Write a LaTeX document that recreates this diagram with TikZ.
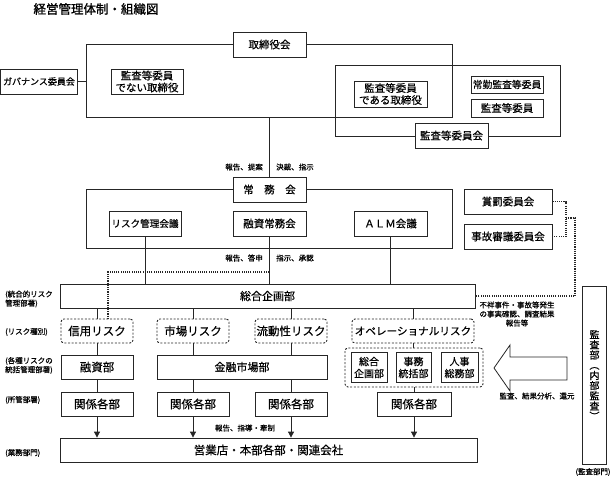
\documentclass[tikz,border=0pt]{standalone}
\usepackage{fontspec}
\setmainfont[FakeBold=0.5]{Noto Sans CJK JP}
\newfontfamily\titlefont[FakeBold=1.3]{Noto Sans CJK JP}
\usetikzlibrary{arrows.meta}
\begin{document}
\begin{tikzpicture}[x=1pt,y=-1pt,
  ln/.style={draw=black!85, line width=0.8pt},
  bx/.style={ln, fill=white, inner sep=0pt, align=center, font=\fontsize{10.5}{12}\selectfont},
  frm/.style={ln, inner sep=0pt},
  dbx/.style={draw=black!85, line width=0.9pt, dash pattern=on 2pt off 1.6pt, rounded corners=3pt, fill=white, inner sep=0pt, align=center, font=\fontsize{11.5}{13}\selectfont},
  dotline/.style={draw=black!85, line width=1.1pt, dash pattern=on 1.1pt off 1.1pt},
  lbl/.style={inner sep=0pt, font=\fontsize{7.5}{9}\selectfont, align=left},
  arr/.style={ln, -{Triangle[width=6pt,length=6pt]}},
  big/.style={font=\fontsize{11.5}{13}\selectfont},
]
\useasboundingbox (0,0) rectangle (612,477);

% title
\node[inner sep=0pt, font=\fontsize{12.5}{14}\titlefont] (title) at (96,9) {経営管理体制・組織図};

% board of directors
\node[frm, minimum width=366pt, minimum height=73pt] (boardframe) at (269,80.5) {};
\node[frm, minimum width=225pt, minimum height=71pt] (auditframe) at (447.5,100.5) {};
\node[bx, minimum width=73pt, minimum height=25pt] (board) at (269.5,44.5) {取締役会};
\node[bx, minimum width=77pt, minimum height=25pt, font=\fontsize{9}{10}\selectfont] (gov) at (39,81.5) {ガバナンス委員会};
\draw[ln] (gov.east) -- (gov.east -| boardframe.west);
\node[bx, minimum width=72pt, minimum height=25pt] (nonaudit) at (147,81.5) {監査等委員\\でない取締役};
\node[bx, minimum width=73pt, minimum height=26pt] (auditdir) at (390.5,94) {監査等委員\\である取締役};
\node[bx, minimum width=72pt, minimum height=17pt, font=\fontsize{9.8}{11}\selectfont] (fulltime) at (507,84.5) {常勤監査等委員};
\node[bx, minimum width=72pt, minimum height=18pt] (auditmem) at (507,108) {監査等委員};
\node[bx, minimum width=73pt, minimum height=25pt] (auditcom) at (451.5,135.5) {監査等委員会};

% executive committee
\node[frm, minimum width=366pt, minimum height=59pt] (jomuframe) at (269,218.5) {};
\node[bx, minimum width=73pt, minimum height=25pt] (jomu) at (269.5,189.5) {常　務　会};
\draw[ln] (jomu.north |- boardframe.south) -- (jomu.north);
\node[lbl, anchor=east] (l1) at (263,167) {報告、提案};
\node[lbl, anchor=west] (l2) at (276,167) {決裁、指示};
\node[bx, minimum width=72pt, minimum height=25pt, font=\fontsize{9.6}{11}\selectfont] (riskm) at (145,223.5) {リスク管理会議};
\node[bx, minimum width=73pt, minimum height=25pt] (yushi) at (269.5,223.5) {融資常務会};
\node[bx, minimum width=73pt, minimum height=25pt] (alm) at (390.5,223.5) {ＡＬＭ会議};

\node[bx, minimum width=88pt, minimum height=25pt] (shobatsu) at (508,201.5) {賞罰委員会};
\node[bx, minimum width=88pt, minimum height=25pt] (jiko) at (508,236.5) {事故審議委員会};

% planning dept
\node[bx, minimum width=415pt, minimum height=24pt, font=\fontsize{11}{13}\selectfont] (soumu) at (267.5,296) {総合企画部};
\draw[ln] (riskm.south) -- (riskm.south |- soumu.north);
\draw[ln] (yushi.south) -- (yushi.south |- soumu.north);
\draw[ln] (alm.south) -- (alm.south |- soumu.north);
\node[lbl, anchor=east] (l3) at (263,258) {報告、答申};
\node[lbl, anchor=west] (l4) at (276,258) {指示、承認};

% risk types
\node[dbx, minimum width=72pt, minimum height=24pt] (shinyo) at (97,331) {信用リスク};
\node[dbx, minimum width=72pt, minimum height=24pt] (shijo) at (193,331) {市場リスク};
\node[dbx, minimum width=72pt, minimum height=24pt] (ryudo) at (291,331) {流動性リスク};
\node[dbx, minimum width=122pt, minimum height=24pt, font=\fontsize{10.6}{12}\selectfont] (opr) at (413,331) {オペレーショナルリスク};
\foreach \n in {shinyo,shijo,ryudo,opr}
  \draw[ln] (\n.north |- soumu.south) -- (\n.north);

% dotted loan committee link
\coordinate (dj) at (269,272);
\draw[dotline] (dj) -| ([xshift=11pt]shinyo.north);

% managing depts
\node[bx, big, minimum width=72pt, minimum height=24pt] (yushibu) at (97,367) {融資部};
\node[bx, minimum width=170pt, minimum height=24pt, font=\fontsize{11}{13}\selectfont] (kinyu) at (242,367) {金融市場部};
\draw[ln] (shinyo.south) -- (yushibu.north);
\draw[ln] (shijo.south) -- (shijo.south |- kinyu.north);
\draw[ln] (ryudo.south) -- (ryudo.south |- kinyu.north);

\node[dbx, minimum width=138pt, minimum height=39pt] (opsgrp) at (414,367.5) {};
\node[bx, minimum width=36pt, minimum height=30pt, font=\fontsize{10}{12}\selectfont] (sk) at (369,367.5) {総合\\企画部};
\node[bx, minimum width=35pt, minimum height=30pt, font=\fontsize{10}{12}\selectfont] (jm) at (413.5,367.5) {事務\\統括部};
\node[bx, minimum width=37pt, minimum height=30pt, font=\fontsize{10}{12}\selectfont] (jj) at (459.5,367.5) {人事\\総務部};
\draw[ln] (opr.south) -- (opr.south |- opsgrp.north);

% related depts
\node[bx, big, minimum width=72pt, minimum height=24pt] (k1) at (97,404) {関係各部};
\node[bx, big, minimum width=72pt, minimum height=24pt] (k2) at (193,404) {関係各部};
\node[bx, big, minimum width=72pt, minimum height=24pt] (k3) at (291,404) {関係各部};
\node[bx, big, minimum width=74pt, minimum height=24pt] (k4) at (414,404) {関係各部};
\draw[ln] (yushibu.south) -- (k1.north);
\draw[ln] (k2.north |- kinyu.south) -- (k2.north);
\draw[ln] (k3.north |- kinyu.south) -- (k3.north);
\draw[ln] (k4.north |- opsgrp.south) -- (k4.north);

% business units
\node[bx, minimum width=417pt, minimum height=24pt, font=\fontsize{11.5}{13}\selectfont] (eigyo) at (268.5,450) {営業店・本部各部・関連会社};
\foreach \n in {k1,k2,k3,k4}
  \draw[arr] (\n.south) -- (\n.south |- eigyo.north);
\node[lbl] (l5) at (245,428) {報告、指導・牽制};

% audit side
\coordinate (dv) at (566,218);
\coordinate (dc) at (575,218);
\draw[dotline] (shobatsu.east) -| (dv) |- (jiko.east);
\draw[dotline] (dv) -- (dc) |- (soumu.east);
\node[lbl, align=center] (l6) at (517,314) {不祥事件・事故等発生\\の事実確認、調査結果\\報告等};

\node[bx, minimum width=24pt, minimum height=178pt, font=\fontsize{10}{10.2}\selectfont] (kansa) at (594.5,375) {監\\査\\部\\︵\\内\\部\\監\\査\\︶};
\node[lbl] (l7) at (593,472) {(監査部門)};

\draw[ln, fill=white] (494,368) -- (510,345) -- (510,357) -- (567,357) -- (567,380) -- (510,380) -- (510,391) -- cycle;
\node[lbl] (l8) at (537,396) {監査、結果分析、還元};

% left labels
\node[lbl, anchor=west] (s1) at (5,299) {(統合的リスク\\管理部署)};
\node[lbl, anchor=west] (s2) at (5,332) {(リスク種別)};
\node[lbl, anchor=west] (s3) at (5,365.5) {(各種リスクの\\統括管理部署)};
\node[lbl, anchor=west] (s4) at (5,400) {(所管部署)};
\node[lbl, anchor=west] (s5) at (5,453) {(業務部門)};
\end{tikzpicture}
\end{document}
